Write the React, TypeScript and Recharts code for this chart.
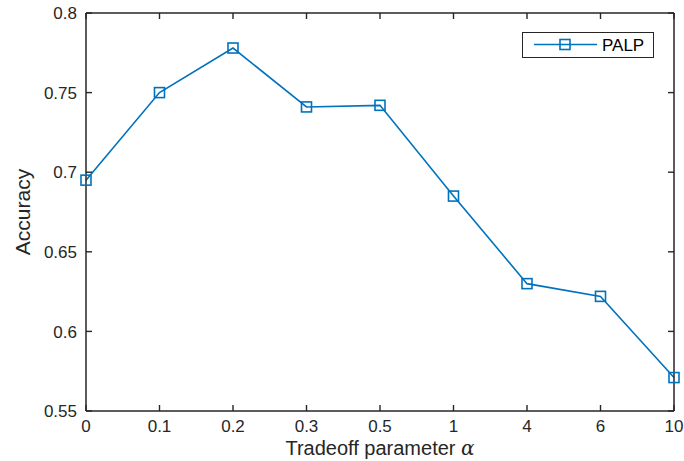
import React from 'react';
import { LineChart, Line, XAxis, YAxis } from 'recharts';

const alphaLabels = ['0', '0.1', '0.2', '0.3', '0.5', '1', '4', '6', '10'];
const palpAccuracy = [0.695, 0.75, 0.778, 0.741, 0.742, 0.685, 0.630, 0.622, 0.571];
const yTicks = [0.55, 0.6, 0.65, 0.7, 0.75, 0.8];
const seriesName = 'PALP';

const data = alphaLabels.map((a, i) => ({ alpha: a, PALP: palpAccuracy[i] }));

const AXIS = '#262626';
const BLUE = '#0072BD';
const FONT = '"Liberation Sans", Arial, Helvetica, sans-serif';
const TICK_LEN = 6;

const fmtY = (v: number) => String(Number(v.toFixed(2)));

const BottomTick = (props: any) => {
  const { x, y, payload } = props;
  return (
    <g>
      <line x1={x} y1={y} x2={x} y2={y - TICK_LEN} stroke={AXIS} strokeWidth={1.4} />
      <text x={x} y={y + 21} textAnchor="middle" fontSize={17} fontFamily={FONT} fill={AXIS}>
        {payload.value}
      </text>
    </g>
  );
};

const TopTick = (props: any) => {
  const { x, y } = props;
  return <line x1={x} y1={y} x2={x} y2={y + TICK_LEN} stroke={AXIS} strokeWidth={1.4} />;
};

const LeftTick = (props: any) => {
  const { x, y, payload } = props;
  return (
    <g>
      <line x1={x} y1={y} x2={x + TICK_LEN} y2={y} stroke={AXIS} strokeWidth={1.4} />
      <text x={x - 9} y={y} dy="0.36em" textAnchor="end" fontSize={17} fontFamily={FONT} fill={AXIS}>
        {fmtY(payload.value)}
      </text>
    </g>
  );
};

const RightTick = (props: any) => {
  const { x, y } = props;
  return <line x1={x} y1={y} x2={x - TICK_LEN} y2={y} stroke={AXIS} strokeWidth={1.4} />;
};

const SquareDot = (props: any) => {
  const { cx, cy } = props;
  if (cx == null || cy == null) return null;
  return (
    <rect x={cx - 5} y={cy - 5} width={10} height={10} fill="none" stroke={BLUE} strokeWidth={1.6} />
  );
};

const LegendBox = () => (
  <div
    style={{
      position: 'absolute',
      left: 522,
      top: 32,
      width: 132,
      height: 26,
      border: `1.5px solid ${AXIS}`,
      background: '#fff',
      boxSizing: 'border-box',
    }}
  >
    <svg width={129} height={23} style={{ position: 'absolute', left: 0, top: 0 }}>
      <line x1={11} y1={11.5} x2={74} y2={11.5} stroke={BLUE} strokeWidth={1.6} />
      <rect x={37} y={6.5} width={10} height={10} fill="none" stroke={BLUE} strokeWidth={1.6} />
      <text x={79} y={11.5} dy="0.36em" fontSize={17} fontFamily={FONT} fill="#000">
        {seriesName}
      </text>
    </svg>
  </div>
);

export default function App() {
  return (
    <div style={{ position: 'absolute', left: 0, top: 0, width: 684, height: 461, background: '#fff' }}>
      <LineChart width={684} height={461} data={data} margin={{ top: 12, right: 9, left: 0, bottom: 0 }}>
        <XAxis
          dataKey="alpha"
          xAxisId="bottom"
          orientation="bottom"
          height={50}
          axisLine={{ stroke: AXIS, strokeWidth: 1.5 }}
          tickLine={false}
          tickSize={0}
          tickMargin={0}
          tick={<BottomTick />}
          interval={0}
          label={{
            content: (p: any) => {
              const vb = p.viewBox || {};
              return (
                <text
                  x={vb.x + vb.width / 2}
                  y={vb.y + 44}
                  textAnchor="middle"
                  fontSize={20}
                  fontFamily={FONT}
                  fill={AXIS}
                >
                  Tradeoff parameter{' '}
                  <tspan fontFamily='"DejaVu Serif", serif' fontStyle="italic">
                    α
                  </tspan>
                </text>
              );
            },
          }}
        />
        <XAxis
          dataKey="alpha"
          xAxisId="top"
          orientation="top"
          height={1}
          axisLine={{ stroke: AXIS, strokeWidth: 1.5 }}
          tickLine={false}
          tickSize={0}
          tickMargin={0}
          tick={<TopTick />}
          interval={0}
        />
        <YAxis
          yAxisId="left"
          width={86}
          domain={[0.55, 0.8]}
          ticks={yTicks}
          type="number"
          allowDataOverflow
          axisLine={{ stroke: AXIS, strokeWidth: 1.5 }}
          tickLine={false}
          tickSize={0}
          tickMargin={0}
          tick={<LeftTick />}
          interval={0}
          label={{
            content: (p: any) => {
              const vb = p.viewBox || {};
              const cx = vb.x + 22;
              const cy = vb.y + vb.height / 2;
              return (
                <text
                  x={cx}
                  y={cy}
                  transform={`rotate(-90 ${cx} ${cy})`}
                  textAnchor="middle"
                  dy="0.36em"
                  fontSize={21}
                  fontFamily={FONT}
                  fill={AXIS}
                >
                  Accuracy
                </text>
              );
            },
          }}
        />
        <YAxis
          yAxisId="right"
          orientation="right"
          width={1}
          domain={[0.55, 0.8]}
          ticks={yTicks}
          type="number"
          allowDataOverflow
          axisLine={{ stroke: AXIS, strokeWidth: 1.5 }}
          tickLine={false}
          tickSize={0}
          tickMargin={0}
          tick={<RightTick />}
          interval={0}
        />
        <Line
          xAxisId="top"
          yAxisId="right"
          type="linear"
          dataKey="PALP"
          stroke="none"
          dot={false}
          activeDot={false}
          legendType="none"
          isAnimationActive={false}
        />
        <Line
          xAxisId="bottom"
          yAxisId="left"
          type="linear"
          dataKey="PALP"
          name={seriesName}
          stroke={BLUE}
          strokeWidth={1.6}
          dot={<SquareDot />}
          activeDot={false}
          isAnimationActive={false}
        />
      </LineChart>
      <LegendBox />
    </div>
  );
}
